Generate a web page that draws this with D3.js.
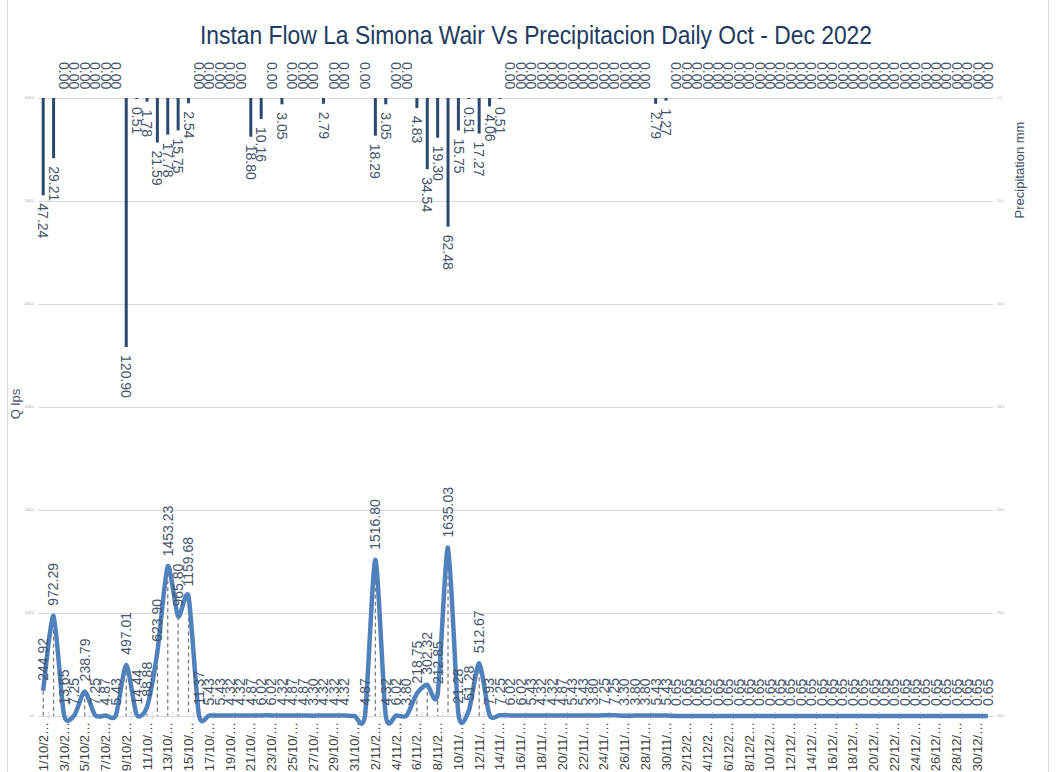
<!DOCTYPE html>
<html>
<head>
<meta charset="utf-8">
<script src="https://cdn.jsdelivr.net/npm/d3@7"></script>
<style>
body { margin: 0; background: #fff; }
text { font-family: "Liberation Sans Narrow", "Arial Narrow", "Liberation Sans", sans-serif; }
</style>
</head>
<body>
<div id="chart"></div>
<script>
const dates = [
    '1/10/2022','2/10/2022','3/10/2022','4/10/2022','5/10/2022','6/10/2022','7/10/2022','8/10/2022','9/10/2022','10/10/2022',
    '11/10/2022','12/10/2022','13/10/2022','14/10/2022','15/10/2022','16/10/2022','17/10/2022','18/10/2022','19/10/2022','20/10/2022',
    '21/10/2022','22/10/2022','23/10/2022','24/10/2022','25/10/2022','26/10/2022','27/10/2022','28/10/2022','29/10/2022','30/10/2022',
    '31/10/2022','1/11/2022','2/11/2022','3/11/2022','4/11/2022','5/11/2022','6/11/2022','7/11/2022','8/11/2022','9/11/2022',
    '10/11/2022','11/11/2022','12/11/2022','13/11/2022','14/11/2022','15/11/2022','16/11/2022','17/11/2022','18/11/2022','19/11/2022',
    '20/11/2022','21/11/2022','22/11/2022','23/11/2022','24/11/2022','25/11/2022','26/11/2022','27/11/2022','28/11/2022','29/11/2022',
    '30/11/2022','1/12/2022','2/12/2022','3/12/2022','4/12/2022','5/12/2022','6/12/2022','7/12/2022','8/12/2022','9/12/2022',
    '10/12/2022','11/12/2022','12/12/2022','13/12/2022','14/12/2022','15/12/2022','16/12/2022','17/12/2022','18/12/2022','19/12/2022',
    '20/12/2022','21/12/2022','22/12/2022','23/12/2022','24/12/2022','25/12/2022','26/12/2022','27/12/2022','28/12/2022','29/12/2022',
    '30/12/2022','31/12/2022'
];

// caudal instantaneo (Q lps)
const flow = [
    244.92, 972.29, 13.65, 7.25, 238.79, 7.25, 4.87, 5.43, 497.01, 14.44,
    88.88, 623.90, 1453.23, 965.80, 1159.68, 11.37, 5.43, 5.43, 4.32, 4.32,
    4.87, 6.02, 6.02, 4.32, 4.87, 4.87, 3.30, 4.32, 4.32, 4.32,
    null, 4.87, 1516.80, 4.32, 6.02, 3.80, 218.75, 302.32, 212.85, 1635.03,
    21.28, 51.28, 512.67, 7.93, 7.25, 6.02, 6.02, 5.43, 4.32, 4.32,
    4.87, 5.43, 5.43, 3.80, 7.25, 7.25, 3.30, 3.80, 3.80, 5.43,
    5.43, 0.65, 0.65, 0.65, 0.65, 0.65, 0.65, 0.65, 0.65, 0.65,
    0.65, 0.65, 0.65, 0.65, 0.65, 0.65, 0.65, 0.65, 0.65, 0.65,
    0.65, 0.65, 0.65, 0.65, 0.65, 0.65, 0.65, 0.65, 0.65, 0.65,
    0.65, 0.65
];

// precipitacion diaria (mm)
const precip = [
    47.24, 29.21, 0, 0, 0, 0, 0, 0, 120.90, 0.51,
    1.78, 21.59, 17.78, 15.75, 2.54, 0, 0, 0, 0, 0,
    18.80, 10.16, 0, 3.05, 0, 0, 0, 2.79, 0, 0,
    null, 0, 18.29, 3.05, 0, 0, 4.83, 34.54, 19.30, 62.48,
    15.75, 0.51, 17.27, 4.06, 0.51, 0, 0, 0, 0, 0,
    0, 0, 0, 0, 0, 0, 0, 0, 0, 2.79,
    1.27, 0, 0, 0, 0, 0, 0, 0, 0, 0,
    0, 0, 0, 0, 0, 0, 0, 0, 0, 0,
    0, 0, 0, 0, 0, 0, 0, 0, 0, 0,
    0, 0
];

const flowTicks = [0, 1000, 2000, 3000, 4000, 5000, 6000];
const precipTicks = [0, 50, 100, 150, 200, 250, 300];

const width = 1056;
const height = 772;
const margin = {top: 98, left: 38, bottom: 56, right: 63};

const labelColor = '#44546a';

const x = d3.scaleBand()
    .domain(dates)
    .range([margin.left, width - margin.right]);
const cx = d => x(d) + x.bandwidth() / 2;

const yF = d3.scaleLinear()
    .domain([0, 6000])
    .range([height - margin.bottom, margin.top]);

const yP = d3.scaleLinear()
    .domain([0, 300])
    .range([margin.top, height - margin.bottom]);

const svg = d3.select('#chart').append('svg')
    .attr('width', width)
    .attr('height', height);

// chart frame
svg.append('rect')
    .attr('x', 7.5).attr('y', -1)
    .attr('width', 1041).attr('height', height + 2)
    .attr('fill', 'none')
    .attr('stroke', '#d9d9d9');

// title
svg.append('text')
    .attr('x', 536).attr('y', 44)
    .attr('text-anchor', 'middle')
    .attr('font-size', 25)
    .attr('fill', '#203a60')
    .attr('textLength', 672)
    .attr('lengthAdjust', 'spacingAndGlyphs')
    .text('Instan Flow La Simona Wair Vs Precipitacion Daily Oct - Dec 2022');

// grid + left axis (Q lps)
svg.append('g')
    .attr('transform', `translate(${margin.left},0)`)
    .call(d3.axisLeft(yF).tickValues(flowTicks)
        .tickSize(-(width - margin.left - margin.right))
        .tickPadding(4)
        .tickFormat(d => d.toFixed(1)))
    .call(g => g.select('.domain').remove())
    .call(g => g.selectAll('line').attr('stroke', '#d9d9d9'))
    .call(g => g.selectAll('text').attr('font-size', 3).attr('fill', '#a6a6a6'));

// right axis (precip)
svg.append('g')
    .attr('transform', `translate(${width - margin.right},0)`)
    .call(d3.axisRight(yP).tickValues(precipTicks)
        .tickSize(0)
        .tickPadding(4)
        .tickFormat(d => d.toFixed(1)))
    .call(g => g.select('.domain').remove())
    .call(g => g.selectAll('text').attr('font-size', 3).attr('fill', '#a6a6a6'));

// x axis
svg.append('g')
    .attr('transform', `translate(0,${height - margin.bottom})`)
    .call(d3.axisBottom(x)
        .tickValues(dates.filter((d, i) => i % 2 === 0))
        .tickSize(0)
        .tickFormat(d => d.length > 6 ? d.slice(0, 6) + '…' : d))
    .call(g => g.select('.domain').attr('stroke', '#d9d9d9'))
    .call(g => g.selectAll('text')
        .attr('transform', 'rotate(-90)')
        .attr('text-anchor', 'end')
        .attr('x', -6).attr('y', 0).attr('dy', '0.35em')
        .attr('font-size', 13)
        .attr('fill', '#404040'));

// small ticks between every two categories
svg.append('g')
    .selectAll('line').data(dates.filter((d, i) => i % 2 === 0))
    .enter().append('line')
    .attr('x1', d => x(d) + x.bandwidth())
    .attr('x2', d => x(d) + x.bandwidth())
    .attr('y1', height - margin.bottom - 4)
    .attr('y2', height - margin.bottom + 4)
    .attr('stroke', '#bfbfbf')
    .attr('stroke-dasharray', '1,1');

// axis titles
svg.append('text')
    .attr('transform', 'translate(20,404) rotate(-90)')
    .attr('text-anchor', 'middle')
    .attr('font-size', 13)
    .attr('fill', labelColor)
    .text('Q lps');

svg.append('text')
    .attr('transform', 'translate(1024,170) rotate(-90)')
    .attr('text-anchor', 'middle')
    .attr('font-size', 13)
    .attr('fill', labelColor)
    .text('Precipitation mm');

const pData = dates.map((d, i) => ({date: d, value: precip[i]}));
const fData = dates.map((d, i) => ({date: d, value: flow[i]}));

// precip bars, hanging from top
svg.append('g')
    .attr('fill', '#2d4870')
    .selectAll('rect').data(pData.filter(d => d.value > 0)).enter().append('rect')
    .attr('x', d => cx(d.date) - 1.5)
    .attr('y', yP(0))
    .attr('width', 3)
    .attr('height', d => yP(d.value) - yP(0));

// precip labels
svg.append('g')
    .selectAll('text').data(pData.filter(d => d.value !== null)).enter().append('text')
    .attr('transform', d => {
        const yy = d.value > 0 ? yP(d.value) + 8 : 62;
        return `translate(${cx(d.date)},${yy}) rotate(90)`;
    })
    .attr('dy', '0.35em')
    .attr('font-size', 14)
    .attr('fill', labelColor)
    .text(d => d.value.toFixed(2));

// drop lines
svg.append('g')
    .selectAll('line').data(fData.filter(d => d.value !== null)).enter().append('line')
    .attr('x1', d => cx(d.date)).attr('x2', d => cx(d.date))
    .attr('y1', d => yF(d.value)).attr('y2', yF(0))
    .attr('stroke', '#7f7f7f')
    .attr('stroke-width', 1.3)
    .attr('stroke-dasharray', '4,3');

// flow line
const line = d3.line()
    .x(d => cx(d.date))
    .y(d => yF(d.value ?? 0))
    .curve(d3.curveCardinal.tension(0.3));

svg.append('path')
    .datum(fData)
    .attr('fill', 'none')
    .attr('stroke', '#4f81bd')
    .attr('stroke-width', 4.5)
    .attr('stroke-linejoin', 'round')
    .attr('d', line);

// flow labels
svg.append('g')
    .selectAll('text').data(fData.filter(d => d.value !== null)).enter().append('text')
    .attr('transform', d => `translate(${cx(d.date)},${yF(d.value) - 10}) rotate(-90)`)
    .attr('dy', '0.35em')
    .attr('font-size', 14)
    .attr('fill', labelColor)
    .text(d => d.value.toFixed(2));
</script>
</body>
</html>
